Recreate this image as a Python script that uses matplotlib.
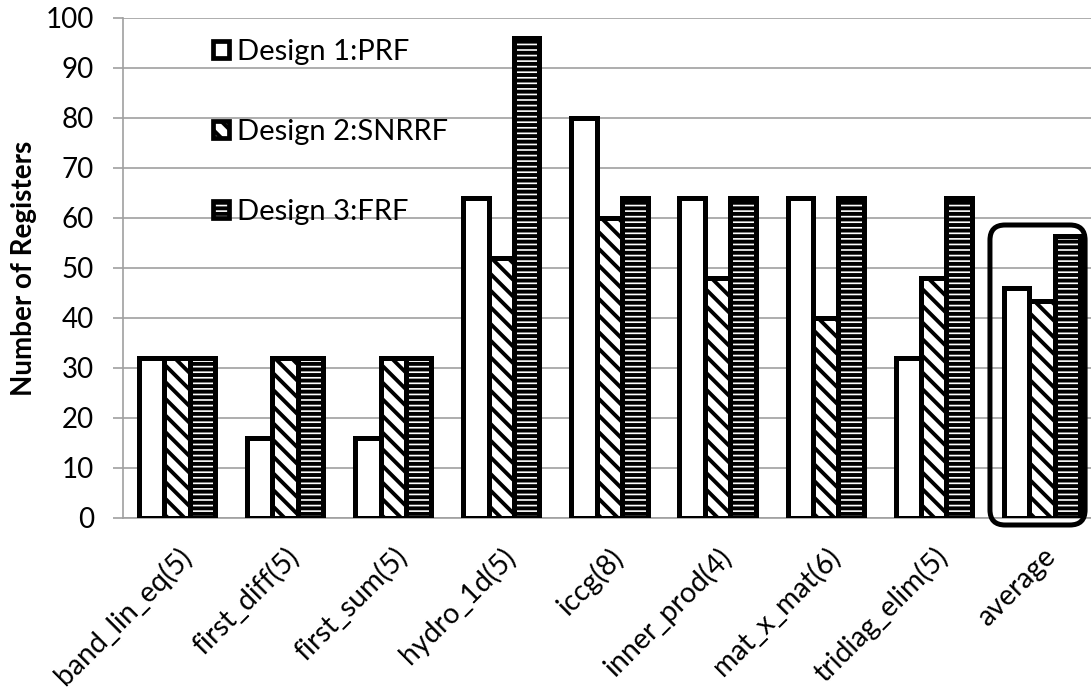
import matplotlib
matplotlib.use("Agg")
import matplotlib.pyplot as plt
import numpy as np
from matplotlib.patches import Patch, FancyBboxPatch

categories = ["band_lin_eq(5)", "first_diff(5)", "first_sum(5)", "hydro_1d(5)",
              "iccg(8)", "inner_prod(4)", "mat_x_mat(6)", "tridiag_elim(5)", "average"]
design1_prf = [32, 16, 16, 64, 80, 64, 64, 32, 46]
design2_snrrf = [32, 32, 32, 52, 60, 48, 40, 48, 43.5]
design3_frf = [32, 32, 32, 96, 64, 64, 64, 64, 56.5]
series_labels = ["Design 1:PRF", "Design 2:SNRRF", "Design 3:FRF"]
yticks = list(range(0, 101, 10))

plt.rcParams['font.family'] = ['Lato', 'DejaVu Sans']
plt.rcParams['hatch.linewidth'] = 2.8

fig = plt.figure(figsize=(10.91, 6.94), dpi=100)
W, H = 1091, 694
ax_left, ax_bottom, ax_top = 123, 518, 18
unit = 108.1
ax = fig.add_axes([ax_left / W, (H - ax_bottom) / H, 9 * unit / W, (ax_bottom - ax_top) / H])

x = np.arange(len(categories))
bw = 0.235
hatches = [None, "\\\\", "---"]
for i, (vals, h) in enumerate(zip([design1_prf, design2_snrrf, design3_frf], hatches)):
    ax.bar(x + (i - 1) * bw, vals, width=bw, facecolor="white", edgecolor="black",
           linewidth=3.6, hatch=h, zorder=3)

ax.set_xlim(-0.5, 8.5)
ax.set_ylim(0, 100)
ax.set_yticks(yticks)
ax.set_xticks(x)
ax.set_xticklabels(categories, rotation=45, ha="right", rotation_mode="anchor", fontsize=20.5)
ax.tick_params(axis="x", length=0, pad=18)
ax.tick_params(axis="y", length=7, width=1.2, color="#a0a0a0", pad=14, labelsize=20)
ax.grid(axis="y", color="#a0a0a0", linewidth=1.2, zorder=0)
ax.set_axisbelow(True)
for s in ["top", "right"]:
    ax.spines[s].set_visible(False)
ax.spines["left"].set_color("#a0a0a0")
ax.spines["left"].set_linewidth(1.2)
ax.spines["bottom"].set_color("#a0a0a0")
ax.spines["bottom"].set_linewidth(1.2)

ax.set_ylabel("Number of Registers", fontsize=20, fontweight="bold", labelpad=6)

# rounded box around the average group
px_per_y = (ax_bottom - ax_top) / 100
aspect = unit / px_per_y
box = FancyBboxPatch((8 - 0.48, -1.4), 0.88, 60.0,
                     boxstyle="round,pad=0,rounding_size=0.14", mutation_aspect=aspect,
                     facecolor="none", edgecolor="black", linewidth=3.6,
                     clip_on=False, zorder=4)
ax.add_patch(box)

handles = [Patch(facecolor="white", edgecolor="black", linewidth=3.4, hatch=h)
           for h in hatches]
leg = ax.legend(handles, series_labels, loc="upper left", bbox_to_anchor=(0.092, 0.958),
                frameon=False, fontsize=21, handlelength=0.55, handleheight=0.55,
                handletextpad=0.3, labelspacing=1.85, borderpad=0, borderaxespad=0)

fig.savefig("out.png", dpi=100)
